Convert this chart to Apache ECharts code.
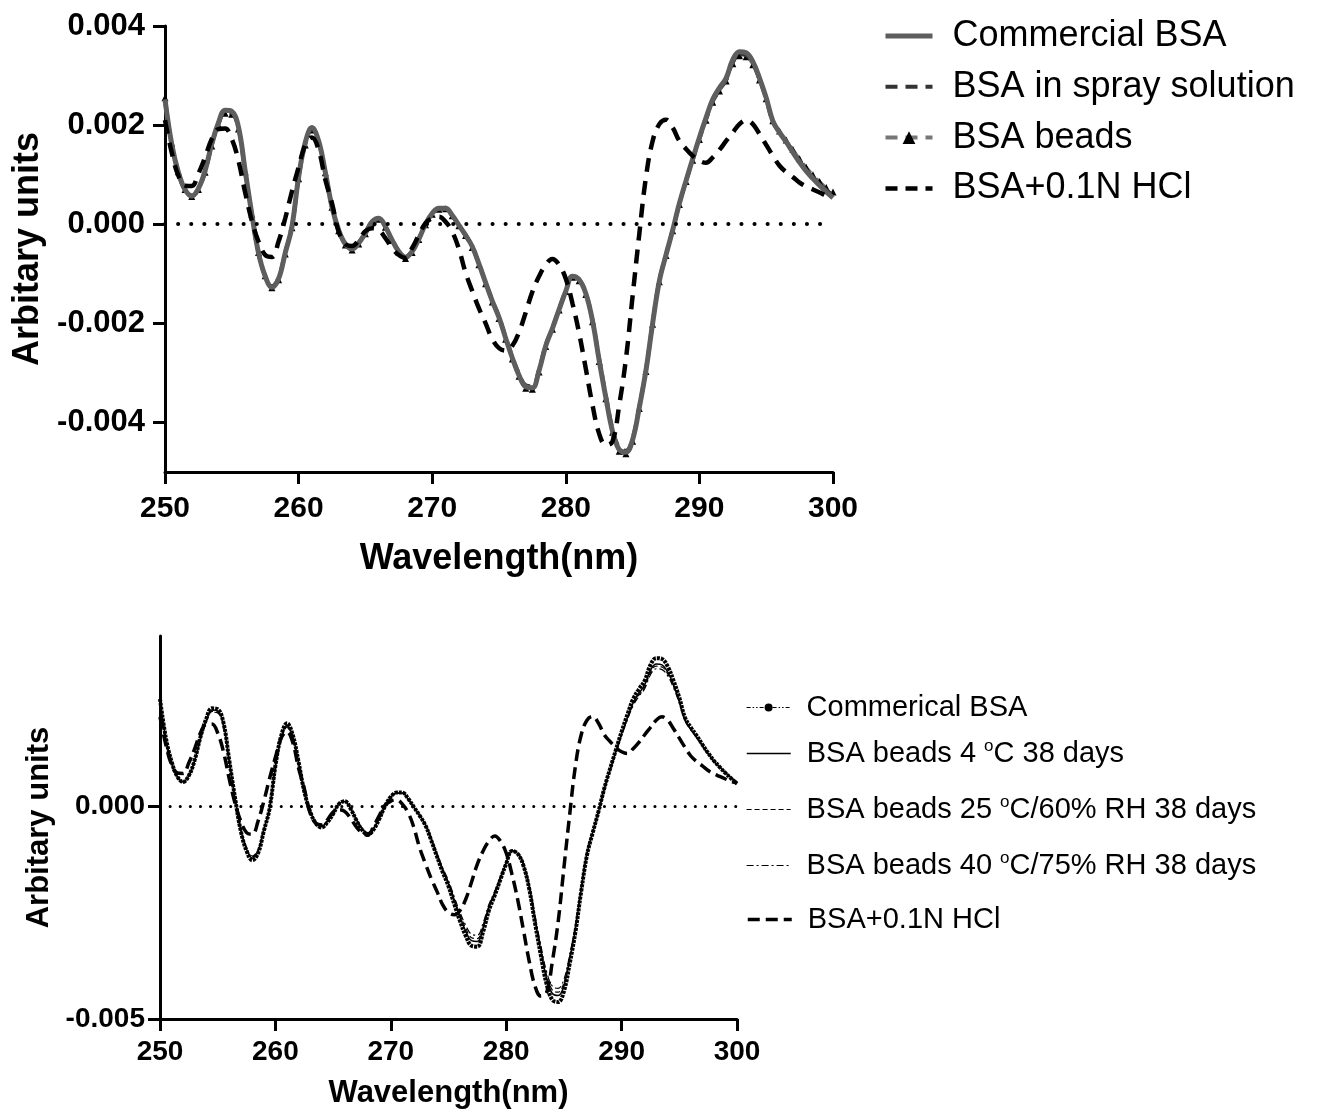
<!DOCTYPE html>
<html><head><meta charset="utf-8">
<script src="https://cdn.jsdelivr.net/npm/echarts@6/dist/echarts.min.js"></script>
<style>html,body{margin:0;padding:0;background:#fff}#c{width:1318px;height:1111px}</style>
</head><body><div id="c"></div>
<script>
// Wavelength samples (nm)
const wavelength = [250,250.5,251,251.5,252,252.5,253,253.5,254,254.5,255,255.5,256,256.5,257,257.5,258,258.5,259,259.5,
260,260.5,261,261.5,262,262.5,263,263.5,264,264.5,265,265.5,266,266.5,267,267.5,268,268.5,269,269.5,
270,270.5,271,271.5,272,272.5,273,273.5,274,274.5,275,275.5,276,276.5,277,277.5,278,278.5,279,279.5,
280,280.5,281,281.5,282,282.5,283,283.5,284,284.5,285,285.5,286,286.5,287,287.5,288,288.5,289,289.5,
290,290.5,291,291.5,292,292.5,293,293.5,294,294.5,295,295.5,296,296.5,297,297.5,298,298.5,299,299.5,300];

// Values in units of 0.001 (arbitrary units)
const commercialBSA = [2.52,1.62,1.05,0.70,0.57,0.72,1.08,1.62,2.05,2.30,2.28,1.96,1.08,0.20,-0.58,-1.05,-1.27,-1.10,-0.58,-0.05,
0.95,1.65,1.95,1.68,1.05,0.35,-0.12,-0.40,-0.50,-0.38,-0.18,0.05,0.12,-0.05,-0.32,-0.55,-0.67,-0.55,-0.30,0.00,
0.22,0.32,0.32,0.18,-0.02,-0.22,-0.45,-0.80,-1.18,-1.55,-1.88,-2.30,-2.70,-3.05,-3.28,-3.30,-2.95,-2.45,-2.10,-1.72,
-1.35,-1.05,-1.12,-1.40,-1.95,-2.75,-3.50,-4.18,-4.55,-4.60,-4.35,-3.70,-2.95,-2.00,-1.15,-0.62,-0.12,0.42,0.88,1.32,
1.75,2.15,2.52,2.75,2.95,3.32,3.48,3.46,3.28,2.95,2.55,2.08,1.85,1.66,1.45,1.25,1.07,0.92,0.78,0.65,0.53];

const spraySolution = [2.50,1.60,1.03,0.68,0.56,0.71,1.06,1.60,2.02,2.27,2.25,1.93,1.06,0.19,-0.58,-1.04,-1.25,-1.08,-0.57,-0.05,
0.93,1.62,1.92,1.66,1.04,0.34,-0.12,-0.40,-0.49,-0.37,-0.17,0.05,0.11,-0.05,-0.32,-0.54,-0.66,-0.54,-0.29,0.00,
0.21,0.31,0.31,0.17,-0.03,-0.23,-0.46,-0.80,-1.17,-1.54,-1.87,-2.28,-2.68,-3.02,-3.25,-3.27,-2.93,-2.44,-2.09,-1.71,
-1.34,-1.04,-1.11,-1.39,-1.94,-2.72,-3.46,-4.14,-4.51,-4.57,-4.32,-3.68,-2.94,-1.99,-1.14,-0.62,-0.12,0.41,0.87,1.30,
1.72,2.12,2.48,2.71,2.91,3.27,3.43,3.41,3.24,2.92,2.53,2.07,1.85,1.67,1.47,1.27,1.10,0.95,0.81,0.69,0.58];

const bsaBeads = [2.55,1.64,1.06,0.70,0.56,0.70,1.05,1.58,2.00,2.24,2.22,1.92,1.06,0.20,-0.57,-1.04,-1.28,-1.12,-0.60,-0.07,
0.92,1.60,1.90,1.65,1.04,0.34,-0.13,-0.42,-0.52,-0.40,-0.19,0.03,0.10,-0.06,-0.33,-0.56,-0.69,-0.57,-0.31,-0.01,
0.20,0.30,0.31,0.17,-0.03,-0.23,-0.47,-0.82,-1.20,-1.57,-1.90,-2.32,-2.72,-3.07,-3.31,-3.33,-2.98,-2.47,-2.12,-1.73,
-1.36,-1.07,-1.14,-1.42,-1.97,-2.77,-3.52,-4.20,-4.58,-4.63,-4.38,-3.72,-2.97,-2.02,-1.16,-0.63,-0.13,0.40,0.86,1.29,
1.71,2.10,2.46,2.69,2.89,3.24,3.40,3.38,3.22,2.91,2.53,2.09,1.88,1.70,1.51,1.32,1.15,1.00,0.86,0.74,0.65];

const bsaHCl = [2.10,1.45,0.98,0.78,0.77,1.02,1.35,1.72,1.92,1.93,1.72,1.28,0.64,0.07,-0.35,-0.62,-0.66,-0.35,0.12,0.66,
1.15,1.60,1.75,1.50,0.90,0.42,-0.15,-0.40,-0.44,-0.32,-0.14,-0.08,-0.12,-0.28,-0.48,-0.62,-0.68,-0.48,-0.22,0.02,
0.12,0.15,0.05,-0.15,-0.50,-0.98,-1.35,-1.70,-2.00,-2.32,-2.50,-2.55,-2.45,-2.18,-1.78,-1.36,-1.05,-0.82,-0.70,-0.82,
-1.10,-1.60,-2.20,-2.92,-3.65,-4.23,-4.46,-4.38,-3.65,-2.72,-1.45,-0.20,0.95,1.68,2.02,2.11,1.95,1.68,1.52,1.38,
1.28,1.24,1.35,1.50,1.68,1.85,2.02,2.10,2.02,1.82,1.60,1.38,1.18,1.05,0.95,0.84,0.76,0.70,0.64,0.58,0.55];

const beads4C = [2.50,1.60,1.03,0.69,0.57,0.72,1.07,1.60,2.02,2.26,2.24,1.93,1.06,0.20,-0.56,-1.01,-1.22,-1.06,-0.56,-0.04,
0.93,1.61,1.90,1.65,1.04,0.35,-0.11,-0.38,-0.48,-0.36,-0.17,0.05,0.11,-0.05,-0.31,-0.53,-0.64,-0.53,-0.29,0.00,
0.21,0.31,0.31,0.17,-0.02,-0.22,-0.44,-0.78,-1.15,-1.51,-1.83,-2.23,-2.61,-2.94,-3.16,-3.18,-2.86,-2.39,-2.06,-1.70,
-1.34,-1.05,-1.11,-1.38,-1.91,-2.68,-3.40,-4.05,-4.40,-4.45,-4.22,-3.60,-2.88,-1.95,-1.12,-0.61,-0.12,0.41,0.86,1.29,
1.70,2.08,2.43,2.65,2.85,3.19,3.34,3.32,3.15,2.85,2.47,2.03,1.81,1.63,1.43,1.24,1.06,0.92,0.79,0.67,0.57];

const beads25C = [2.48,1.59,1.03,0.70,0.58,0.72,1.06,1.58,1.99,2.23,2.21,1.90,1.05,0.20,-0.55,-0.99,-1.19,-1.04,-0.55,-0.04,
0.91,1.58,1.87,1.62,1.02,0.34,-0.11,-0.37,-0.47,-0.35,-0.16,0.05,0.11,-0.05,-0.30,-0.52,-0.63,-0.52,-0.28,0.00,
0.21,0.31,0.31,0.17,-0.02,-0.21,-0.43,-0.76,-1.13,-1.48,-1.79,-2.18,-2.55,-2.87,-3.09,-3.11,-2.80,-2.35,-2.03,-1.68,
-1.33,-1.04,-1.10,-1.36,-1.88,-2.63,-3.33,-3.97,-4.32,-4.37,-4.15,-3.55,-2.84,-1.93,-1.11,-0.60,-0.12,0.40,0.85,1.27,
1.68,2.05,2.39,2.61,2.80,3.14,3.29,3.27,3.11,2.82,2.45,2.02,1.80,1.62,1.42,1.23,1.06,0.92,0.79,0.67,0.57];

const beads40C = [2.47,1.58,1.02,0.70,0.58,0.72,1.05,1.57,1.97,2.21,2.19,1.88,1.04,0.20,-0.54,-0.97,-1.17,-1.02,-0.54,-0.04,
0.90,1.56,1.85,1.60,1.01,0.34,-0.11,-0.37,-0.46,-0.35,-0.16,0.05,0.11,-0.05,-0.30,-0.51,-0.62,-0.51,-0.28,0.00,
0.21,0.30,0.30,0.17,-0.02,-0.21,-0.42,-0.75,-1.11,-1.45,-1.75,-2.13,-2.50,-2.80,-3.01,-3.03,-2.74,-2.31,-2.00,-1.66,
-1.32,-1.04,-1.09,-1.34,-1.85,-2.58,-3.27,-3.89,-4.23,-4.28,-4.07,-3.49,-2.80,-1.91,-1.10,-0.60,-0.12,0.40,0.84,1.26,
1.66,2.03,2.36,2.58,2.76,3.09,3.23,3.21,3.06,2.78,2.42,2.00,1.79,1.61,1.41,1.22,1.05,0.91,0.78,0.66,0.56];

const xTicks = [250,260,270,280,290,300];
const yTicksTop = [-4,-2,0,2,4];
const yTicksBottom = [-5,0];

const pairs = arr => wavelength.map((w,i)=>[w, arr[i]]);
const FONT = 'Liberation Sans';
const fmtY = v => (v/1000).toFixed(3);
const supFmt = name => name.split('º').map((p,i)=>(i>0?'{s|o}':'')+(p?'{n|'+p+'}':'')).join('');
const HIDE = {opacity:0, color:'rgba(0,0,0,0)'};

const zeroLine = (w, gap) => ({
  symbol:'none', silent:true, animation:false, label:{show:false},
  lineStyle:{color:'#000', type:[0.1,gap], width:w, cap:'round'},
  data:[{yAxis:0}]
});

const axisCommon = (lw) => ({
  axisLine:{show:true, onZero:false, lineStyle:{color:'#000', width:lw}},
  axisTick:{show:true, inside:false, length:12, lineStyle:{color:'#000', width:lw}},
  splitLine:{show:false}
});

const chart = echarts.init(document.getElementById('c'), null, {renderer:'canvas'});

const topLegendText = {fontSize:36, fontFamily:FONT, color:'#000', padding:[0,0,0,15],
  rich:{n:{fontSize:36, fontFamily:FONT, color:'#000'}}};
const botRich = {n:{fontSize:29, fontFamily:FONT, color:'#000'}, s:{fontSize:17, fontFamily:FONT, color:'#000', padding:[0,0,14,0]}};
const botLegend = (name, top, ls, is) => ({
  orient:'vertical', left:741, top:top, itemWidth:44, itemHeight:10,
  formatter:supFmt,
  textStyle:{fontSize:29, fontFamily:FONT, color:'#000', padding:[0,0,0,11], rich:botRich},
  data:[{name:name, lineStyle:ls, itemStyle:is||HIDE}]
});

const option = {
  animation:false,
  backgroundColor:'#fff',
  grid:[
    {left:165, top:26, width:668, height:446},
    {left:160, top:636, width:577, height:383}
  ],
  legend:[
    {orient:'vertical', left:878, top:13, itemWidth:47, itemHeight:16, itemGap:14.8,
     formatter:supFmt, textStyle:topLegendText,
     data:[
       {name:'Commercial BSA', lineStyle:{color:'#5e5e5e', width:5, type:'solid'}, itemStyle:HIDE},
       {name:'BSA in spray solution', lineStyle:{color:'#333', width:4, type:[12,8]}, itemStyle:HIDE},
       {name:'BSA beads', lineStyle:{color:'#777', width:4, type:[12,8]}, itemStyle:{color:'#000'}},
       {name:'BSA+0.1N HCl', lineStyle:{color:'#000', width:4.5, type:[12,8]}, itemStyle:HIDE}
     ]},
    botLegend('Commerical BSA', 688, {color:'#000', width:1.2, type:[4,2,1.5,2,1.5,2]}, {color:'#000'}),
    botLegend('BSA beads 4 ºC 38 days', 733, {color:'#000', width:1.5, type:'solid'}),
    botLegend('BSA beads 25 ºC/60% RH 38 days', 789, {color:'#000', width:1.2, type:[5,3]}),
    botLegend('BSA beads 40 ºC/75% RH 38 days', 845, {color:'#000', width:1.2, type:[7,3,2,3]}),
    botLegend('BSA+0.1N HCl', 900, {color:'#000', width:3.5, type:[12,6]})
  ],
  xAxis:[
    Object.assign({gridIndex:0, type:'value', min:250, max:300, interval:10,
      name:'Wavelength(nm)', nameLocation:'middle', nameGap:69,
      nameTextStyle:{fontSize:36, fontWeight:'bold', fontFamily:FONT, color:'#000'},
      axisLabel:{fontSize:30, fontWeight:'bold', fontFamily:FONT, color:'#000', margin:22}
    }, axisCommon(3)),
    Object.assign({gridIndex:1, type:'value', min:250, max:300, interval:10,
      name:'Wavelength(nm)', nameLocation:'middle', nameGap:59,
      nameTextStyle:{fontSize:31, fontWeight:'bold', fontFamily:FONT, color:'#000'},
      axisLabel:{fontSize:28, fontWeight:'bold', fontFamily:FONT, color:'#000', margin:19}
    }, axisCommon(3))
  ],
  yAxis:[
    Object.assign({gridIndex:0, type:'value', min:-5, max:4, interval:1,
      name:'Arbitary units', nameLocation:'middle', nameGap:119,
      nameTextStyle:{fontSize:36, fontWeight:'bold', fontFamily:FONT, color:'#000'},
      axisLabel:{fontSize:31, fontWeight:'bold', fontFamily:FONT, color:'#000', margin:20, formatter:fmtY, customValues:yTicksTop}
    }, axisCommon(3), {axisTick:{show:true, length:12, customValues:yTicksTop, lineStyle:{color:'#000', width:3}}}),
    Object.assign({gridIndex:1, type:'value', min:-5, max:4, interval:5,
      name:'Arbitary units', nameLocation:'middle', nameGap:105,
      nameTextStyle:{fontSize:31, fontWeight:'bold', fontFamily:FONT, color:'#000'},
      axisLabel:{fontSize:28, fontWeight:'bold', fontFamily:FONT, color:'#000', margin:15, formatter:fmtY, customValues:yTicksBottom}
    }, axisCommon(3), {axisTick:{show:true, length:12, customValues:yTicksBottom, lineStyle:{color:'#000', width:3}}})
  ],
  series:[
    // top chart
    {name:'BSA beads', type:'line', xAxisIndex:0, yAxisIndex:0, data:pairs(bsaBeads), smooth:0.4,
     symbol:'triangle', symbolSize:7, showSymbol:true, itemStyle:{color:'#000'},
     lineStyle:{color:'#777', width:3, type:[12,8]}, z:2,
     markLine:zeroLine(4, 13)},
    {name:'BSA in spray solution', type:'line', xAxisIndex:0, yAxisIndex:0, data:pairs(spraySolution), smooth:0.4,
     symbol:'none', itemStyle:{color:'#333'}, lineStyle:{color:'#333', width:4, type:[12,8]}, z:3},
    {name:'Commercial BSA', type:'line', xAxisIndex:0, yAxisIndex:0, data:pairs(commercialBSA), smooth:0.4,
     symbol:'none', itemStyle:{color:'#5e5e5e'}, lineStyle:{color:'#5e5e5e', width:5}, z:4},
    {name:'BSA+0.1N HCl', type:'line', xAxisIndex:0, yAxisIndex:0, data:pairs(bsaHCl), smooth:0.4,
     symbol:'none', itemStyle:{color:'#000'}, lineStyle:{color:'#000', width:4.5, type:[14,9]}, z:5},
    // bottom chart
    {name:'Commerical BSA', type:'line', xAxisIndex:1, yAxisIndex:1, data:pairs(commercialBSA), smooth:0.4,
     symbol:'circle', symbolSize:4, showSymbol:false, itemStyle:{color:'#000'},
     lineStyle:{color:'#000', width:4, type:[3,1]}, z:2,
     markLine:zeroLine(3, 10)},
    {name:'BSA beads 4 ºC 38 days', type:'line', xAxisIndex:1, yAxisIndex:1, data:pairs(beads4C), smooth:0.4,
     symbol:'none', itemStyle:{color:'#000'}, lineStyle:{color:'#000', width:1.5}, z:3},
    {name:'BSA beads 25 ºC/60% RH 38 days', type:'line', xAxisIndex:1, yAxisIndex:1, data:pairs(beads25C), smooth:0.4,
     symbol:'none', itemStyle:{color:'#000'}, lineStyle:{color:'#000', width:1.2, type:[5,3]}, z:3},
    {name:'BSA beads 40 ºC/75% RH 38 days', type:'line', xAxisIndex:1, yAxisIndex:1, data:pairs(beads40C), smooth:0.4,
     symbol:'none', itemStyle:{color:'#000'}, lineStyle:{color:'#000', width:1.2, type:[7,3,2,3]}, z:3},
    {name:'BSA+0.1N HCl', type:'line', xAxisIndex:1, yAxisIndex:1, data:pairs(bsaHCl), smooth:0.4,
     symbol:'none', itemStyle:{color:'#000'}, lineStyle:{color:'#000', width:3.5, type:[12,6]}, z:5}
  ]
};
chart.setOption(option);
</script>
</body></html>
